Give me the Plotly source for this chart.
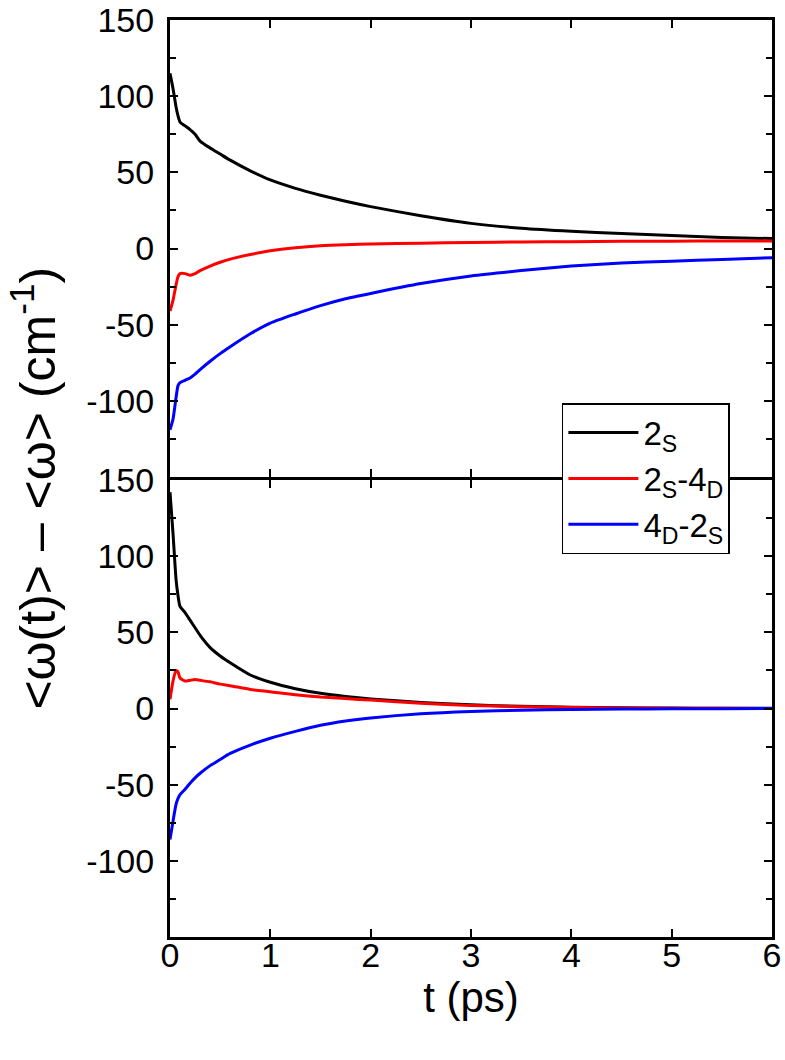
import plotly.graph_objects as go
from plotly.subplots import make_subplots

# time axis (ps), denser near t = 0 where the curves change fast
t = [0, 0.03, 0.06, 0.08, 0.1, 0.15, 0.2, 0.25, 0.3, 0.4, 0.5, 0.6, 0.8, 1.0,
     1.25, 1.5, 1.75, 2.0, 2.5, 3.0, 3.5, 4.0, 4.5, 5.0, 5.5, 6.0]

# upper panel
top_2s = [115, 105, 93, 87, 83, 80.5, 78, 75, 70.5, 66, 62, 58, 51, 45,
          39.5, 35, 31, 27.5, 21.5, 16.5, 13.3, 11.3, 9.8, 8.5, 7.3, 6.5]
top_2s_4d = [-41, -34, -24, -18.5, -16.5, -16.5, -17.5, -16.5, -14.5, -11.5, -9, -7, -4, -1.5,
             0.5, 1.8, 2.5, 3, 3.5, 4, 4.3, 4.5, 4.7, 4.8, 4.9, 5]
top_4d_2s = [-119, -112, -98, -90, -88, -86.5, -85, -82.5, -79.5, -74, -69, -64.5, -56, -49,
             -43, -37.5, -33, -29.5, -23, -18, -14.5, -11.5, -9.5, -8.3, -7.2, -6]

# lower panel
bot_2s = [142, 115, 85, 74, 67, 63, 58, 53, 48, 40, 34.5, 30, 22, 17.2,
          13, 10, 7.9, 6.3, 4, 2.4, 1.4, 0.8, 0.5, 0.3, 0.2, 0.1]
bot_2s_4d = [6, 18, 25, 24, 20, 18, 18.5, 19, 18.5, 17.5, 16, 15, 12.5, 11,
             9, 7.5, 6.5, 5.5, 3.5, 2, 1.2, 0.7, 0.4, 0.2, 0.1, 0]
bot_4d_2s = [-86, -74, -63, -59, -56.5, -53, -49, -45.5, -42.5, -37.5, -33.5, -29.5, -24, -19.5,
             -15, -11, -8.2, -6.2, -3.4, -1.9, -1.1, -0.6, -0.4, -0.2, -0.1, 0]

names = ['2<sub>S</sub>', '2<sub>S</sub>-4<sub>D</sub>', '4<sub>D</sub>-2<sub>S</sub>']
colors = ['black', '#ff0000', '#0000ff']
y_ticks = [-100, -50, 0, 50, 100, 150]
y_labels = ['-100', '-50', '0', '50', '100', '150']
x_ticks = [0, 1, 2, 3, 4, 5, 6]

# small gap so the two 3px frame lines overlap into one divider
fig = make_subplots(rows=2, cols=1, shared_xaxes=True, vertical_spacing=3 / 917)

for i, (ys, name) in enumerate(zip([top_2s, top_2s_4d, top_4d_2s], names)):
    fig.add_trace(go.Scatter(x=t, y=ys, mode='lines', name=name,
                             line=dict(color=colors[i], width=3, shape='spline', smoothing=0.6)),
                  row=1, col=1)
for i, ys in enumerate([bot_2s, bot_2s_4d, bot_4d_2s]):
    fig.add_trace(go.Scatter(x=t, y=ys, mode='lines', name=names[i], showlegend=False,
                             line=dict(color=colors[i], width=3, shape='spline', smoothing=0.6)),
                  row=2, col=1)

axis_style = dict(showline=True, linewidth=3, linecolor='black', mirror='ticks',
                  ticks='inside', ticklen=8, tickwidth=2, tickcolor='black',
                  showgrid=False, zeroline=False, automargin=False,
                  ticklabeloverflow='allow')

fig.update_xaxes(range=[0, 6], tickvals=x_ticks, **axis_style)
fig.update_xaxes(showticklabels=False, row=1, col=1)
fig.update_xaxes(title=dict(text='t (ps)', font=dict(size=42), standoff=6),
                 tickfont=dict(size=34), ticklabelstandoff=-14, row=2, col=1)
fig.update_yaxes(range=[-150, 150], tickvals=y_ticks, ticktext=y_labels,
                 tickfont=dict(size=34), ticklabelstandoff=6,
                 minor=dict(dtick=25, tick0=0, ticks='inside', ticklen=6, tickwidth=2,
                            tickcolor='black', showgrid=False),
                 **axis_style)

fig.add_annotation(text='<ω(t)> – <ω> (cm<sup>-1</sup>)', textangle=-90,
                   xref='paper', yref='paper', x=-0.226, y=0.49,
                   xanchor='center', yanchor='middle', showarrow=False,
                   font=dict(size=50))

fig.update_layout(
    width=785, height=1060,
    margin=dict(l=170, r=13, t=20, b=123),
    paper_bgcolor='white', plot_bgcolor='white',
    font=dict(family='Liberation Sans, Arial, sans-serif', color='black'),
    showlegend=True,
    legend=dict(x=0.651, y=0.5823, xanchor='left', yanchor='top',
                bgcolor='white', bordercolor='black', borderwidth=1.5,
                font=dict(size=33), itemwidth=70, tracegroupgap=0),
)

# drop the page's default 8px body margin so the figure fills the window exactly
fig.write_html("out.html", config={'displayModeBar': False},
               post_script="document.body.style.margin = '0';")
